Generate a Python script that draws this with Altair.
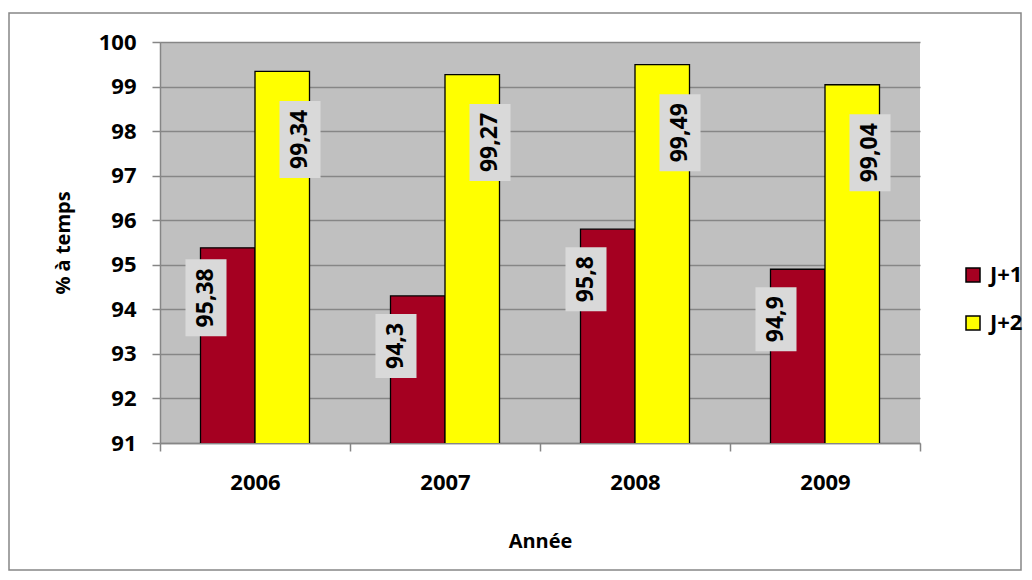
import altair as alt
import pandas as pd

years = ["2006", "2007", "2008", "2009"]
series = ["J+1", "J+2"]
j1_values = [95.38, 94.3, 95.8, 94.9]
j2_values = [99.34, 99.27, 99.49, 99.04]
j1_labels = ["95,38", "94,3", "95,8", "94,9"]
j2_labels = ["99,34", "99,27", "99,49", "99,04"]
y_ticks = [91, 92, 93, 94, 95, 96, 97, 98, 99, 100]

rows = []
for i, yr in enumerate(years):
    rows.append({"Année": yr, "Série": "J+1", "val": j1_values[i], "lab": j1_labels[i]})
    rows.append({"Année": yr, "Série": "J+2", "val": j2_values[i], "lab": j2_labels[i]})
df = pd.DataFrame(rows)

W, H = 760, 401
PXU = H / 9.0  # pixels per unit on the y axis
FONT = "Open Sans"

x_enc = alt.X(
    "Année:N",
    sort=years,
    scale=alt.Scale(paddingInner=0, paddingOuter=0),
    axis=alt.Axis(
        title="Année", tickBand="extent", labelAngle=0,
        labelFont=FONT, labelFontSize=22, labelFontWeight="bold", labelColor="black",
        labelPadding=21, tickSize=8, tickColor="#868686", tickWidth=1.5,
        domainColor="#868686", domainWidth=1.5, grid=False,
        titleFont=FONT, titleFontSize=20, titleFontWeight="bold", titleColor="black",
        titlePadding=38,
    ),
)
y_scale = alt.Scale(domain=[91, 100], nice=False, zero=False)
y_enc = alt.Y(
    "val:Q",
    scale=y_scale,
    axis=alt.Axis(
        values=y_ticks, title="% à temps", grid=True, gridColor="#868686", gridWidth=1.5,
        domainColor="#868686", domainWidth=1.5, tickColor="#868686", tickWidth=1.5, tickSize=8,
        labelFont=FONT, labelFontSize=22, labelFontWeight="bold", labelColor="black",
        labelPadding=16, titleFont=FONT, titleFontSize=20, titleFontWeight="bold",
        titleColor="black", titlePadding=25,
    ),
)

base = alt.Chart(df)

bars = base.mark_bar(stroke="black", strokeWidth=1.3, clip=True).encode(
    x=x_enc,
    xOffset=alt.XOffset("Série:N", sort=series,
                        scale=alt.Scale(paddingInner=0, paddingOuter=0.743)),
    y=y_enc,
    color=alt.Color(
        "Série:N",
        scale=alt.Scale(domain=series, range=["#A50021", "#FFFF00"]),
        legend=alt.Legend(
            title=None, orient="none", legendX=802, legendY=222,
            symbolType="square", symbolSize=196, symbolStrokeColor="black",
            symbolStrokeWidth=1.5, labelFont=FONT, labelFontSize=22, labelFontWeight="bold",
            labelColor="black", labelOffset=6, rowPadding=26,
        ),
    ),
)


def label_layers(name, dy_px, dx_px):
    d = base.transform_filter(alt.datum["Série"] == name).transform_calculate(
        c=f"datum.val - {dy_px} / {PXU}",
        half=f"(13 * length(datum.lab) + 12) / 2 / {PXU}",
    ).transform_calculate(b1="datum.c - datum.half", b2="datum.c + datum.half")
    box = d.mark_bar(fill="#D9D9D9", width=41, xOffset=dx_px).encode(
        x=alt.X("Année:N", sort=years), y=alt.Y("b1:Q", scale=y_scale), y2="b2:Q"
    )
    txt = d.mark_text(
        angle=270, align="center", baseline="middle", font=FONT, fontSize=23,
        fontWeight="bold", color="black", xOffset=dx_px,
    ).encode(x=alt.X("Année:N", sort=years), y=alt.Y("c:Q", scale=y_scale), text="lab:N")
    return box, txt


box1, txt1 = label_layers("J+1", 50, -49)
box2, txt2 = label_layers("J+2", 68, 45)

border = alt.Chart(pd.DataFrame({"k": [0]})).mark_rect(
    fillOpacity=0, stroke="#868686", strokeWidth=1.5
).encode(x=alt.value(-151), x2=alt.value(861), y=alt.value(-29), y2=alt.value(528))

chart = alt.layer(border, bars, box1, txt1, box2, txt2).properties(
    width=W, height=H, autosize="none",
    padding={"left": 152, "top": 34, "right": 104, "bottom": 129},
).configure_view(fill="#C0C0C0", stroke=None)

chart.save("out.html", embed_options={"renderer": "svg", "actions": False})
